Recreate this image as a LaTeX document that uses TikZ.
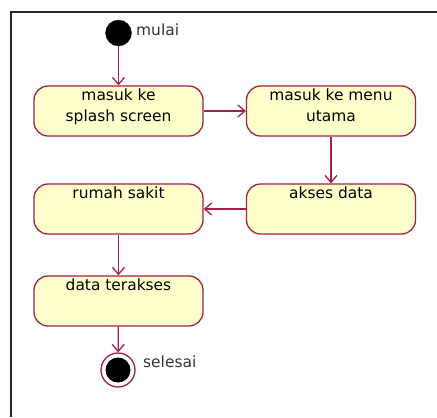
\documentclass[tikz,border=0pt]{standalone}
\usepackage{fontspec}
\setmainfont{DejaVu Sans}
\usetikzlibrary{arrows.meta}
\definecolor{umlred}{RGB}{163,32,74}
\definecolor{umlfill}{RGB}{255,255,204}

\begin{document}
\begin{tikzpicture}[x=1bp,y=-1bp,
  every node/.style={font=\fontsize{15.5}{21}\selectfont},
  act/.style={draw=umlred,fill=umlfill,line width=1.3bp,rounded corners=14bp,
    minimum width=169bp,minimum height=50bp,inner sep=0pt},
  acttext/.style={anchor=north,align=center,inner sep=3bp},
  flow/.style={draw=umlred,line width=1.3bp,-{Straight Barb[length=7bp,width=12bp]}}]
  \useasboundingbox (0,0) rectangle (437,417);
  % frame
  \draw[line width=2bp,black!85] (11,417) -- (11,12) -- (437,12);

  % start
  \node[circle,fill=black,draw=umlred!40!black,minimum size=26bp,inner sep=0pt] (start) at (118.5,33) {};
  \node[anchor=base west,inner sep=0pt,black!80] (startlbl) at (136,35) {mulai};

  % activities
  \node[act] (splash) at (118.5,111) {};
  \node[acttext] (splashtxt) at (splash.north) {masuk ke\\splash screen};
  \node[act] (menu) at (331,111) {};
  \node[acttext] (menutxt) at (menu.north) {masuk ke menu\\utama};
  \node[act] (akses) at (331,209) {};
  \node[acttext] (aksestxt) at (akses.north) {akses data};
  \node[act] (rumah) at (118.5,209) {};
  \node[acttext] (rumahtxt) at (rumah.north) {rumah sakit};
  \node[act] (terakses) at (118.5,301) {};
  \node[acttext] (teraksestxt) at (terakses.north) {data terakses};

  % end
  \node[circle,draw=umlred,fill=white,line width=1.3bp,minimum size=34bp,inner sep=0pt] (finish) at (118,370) {};
  \node[circle,fill=black,minimum size=25bp,inner sep=0pt] (finishdot) at (finish) {};
  \node[anchor=base west,inner sep=0pt,black!80] (finishlbl) at (143,367) {selesai};

  % flows
  \draw[flow] (start) -- (splash);
  \draw[flow] (splash) -- (menu);
  \draw[flow] (menu) -- (akses);
  \draw[flow] (akses) -- (rumah);
  \draw[flow] (rumah) -- (terakses);
  \draw[flow] (terakses) -- (finish);
\end{tikzpicture}
\end{document}
